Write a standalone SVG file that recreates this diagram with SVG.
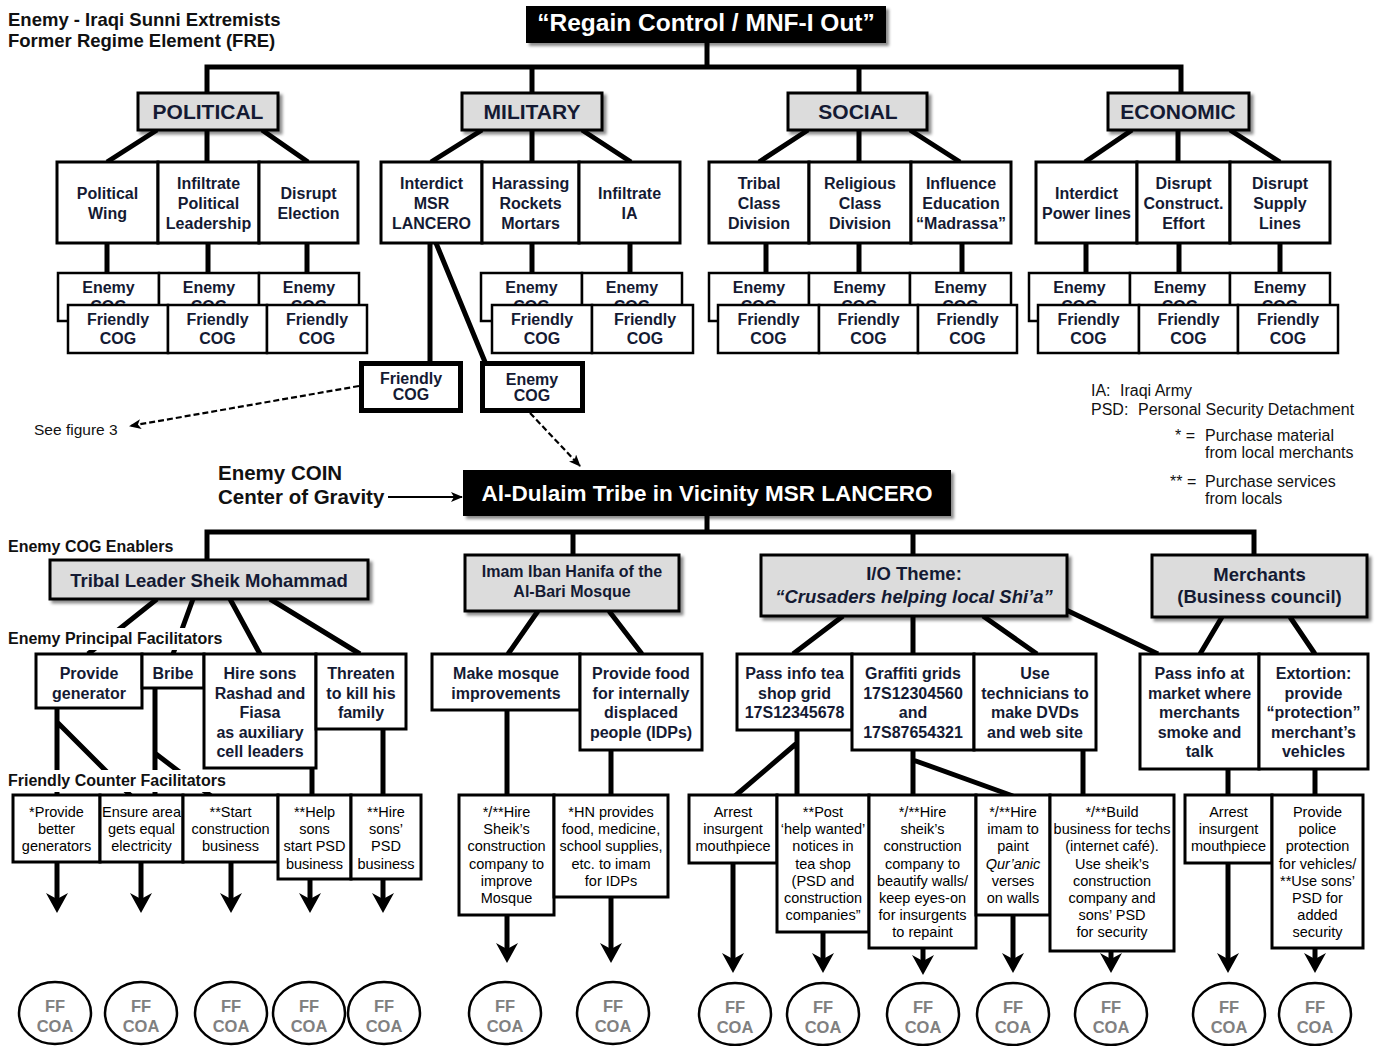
<svg xmlns="http://www.w3.org/2000/svg" width="1377" height="1046" viewBox="0 0 1377 1046">
<style>
.ln{stroke:#000;stroke-width:5;fill:none}
.tl{stroke:#000;stroke-width:2;fill:none}
.ds{stroke:#000;stroke-width:2.2;fill:none;stroke-dasharray:6 3}
.box{fill:#fff;stroke:#000;stroke-width:3}
.cog{fill:#fff;stroke:#000;stroke-width:2.5}
.cat{fill:#dcdcdc;stroke:#000;stroke-width:3;filter:url(#sh)}
.blk{fill:#000;filter:url(#sh)}
.b{font-family:"Liberation Sans",Arial,sans-serif;font-weight:bold;font-size:16px;fill:#141a33;text-anchor:middle}
.c{font-family:"Liberation Sans",Arial,sans-serif;font-weight:bold;font-size:21px;fill:#141a33;text-anchor:middle}
.h{font-family:"Liberation Sans",Arial,sans-serif;font-weight:bold;font-size:18.5px;fill:#141a33;text-anchor:middle}
.r{font-family:"Liberation Sans",Arial,sans-serif;font-size:14.5px;fill:#000;text-anchor:middle}
.lab{font-family:"Liberation Sans",Arial,sans-serif;font-weight:bold;font-size:16px;fill:#111}
.leg{font-family:"Liberation Sans",Arial,sans-serif;font-size:16px;fill:#111}
.w{font-family:"Liberation Sans",Arial,sans-serif;font-weight:bold;fill:#fff;text-anchor:middle}
.coa{fill:#fff;stroke:#000;stroke-width:2.5}
.ct{font-family:"Liberation Sans",Arial,sans-serif;font-weight:bold;font-size:16.5px;fill:#808080;text-anchor:middle}
.hid{clip-path:url(#ecl)}
</style>
<defs>
<filter id="sh" x="-10%" y="-20%" width="130%" height="150%">
<feDropShadow dx="3" dy="3" stdDeviation="1.6" flood-color="#000" flood-opacity="0.45"/>
</filter>
<clipPath id="ecl" clipPathUnits="userSpaceOnUse"><rect x="0" y="270" width="1377" height="35"/></clipPath>
<marker id="ah" markerUnits="userSpaceOnUse" viewBox="0 -11 20 22" refX="10" refY="0" markerWidth="20" markerHeight="22" orient="auto">
<path d="M0,-11 L20,0 L0,11 L6,0 Z" fill="#000"/>
</marker>
<marker id="sa" markerUnits="userSpaceOnUse" viewBox="0 -5 12 10" refX="11" refY="0" markerWidth="12" markerHeight="10" orient="auto">
<path d="M0,-5 L12,0 L0,5 L3,0 Z" fill="#000"/>
</marker>
</defs>
<rect width="1377" height="1046" fill="#fff"/>

<g id="connectors">
<path class="ln" d="M707,43 V67 M207,93 V67 H1181 V93 M532,67 V93 M859,67 V93"/>
<path class="ln" d="M157,130 L107,162 M207,130 V162 M262,130 L308,162"/>
<path class="ln" d="M482,130 L431,162 M532,130 V162 M582,130 L631,162"/>
<path class="ln" d="M808,130 L759,162 M859,130 V162 M910,130 L960,162"/>
<path class="ln" d="M1132,130 L1085,162 M1178,130 V162 M1230,130 L1280,162"/>
<path class="ln" d="M107,243 V273 M208,243 V273 M307,243 V273 M532,243 V273 M630,243 V273 M766,243 V273 M859,243 V273 M962,243 V273 M1086,243 V273 M1179,243 V273 M1280,243 V273"/>
<path class="ln" d="M430,243 V362 M436,243 L485,362"/>
<path class="ds" d="M359,386 L130,426" marker-end="url(#sa)"/>
<path class="ds" d="M530,413 L580,466" marker-end="url(#sa)"/>
<path class="tl" d="M388,497 L462,497" marker-end="url(#sa)"/>
<path class="ln" d="M707,516 V532 M207,560 V532 H1254 V555 M573,532 V555 M913,532 V555"/>
<path class="ln" d="M157,599 L88,654 M193,599 L173,654 M230,599 L260,654 M270,599 L360,654"/>
<path class="ln" d="M538,611 L508,654 M609,611 L642,654"/>
<path class="ln" d="M843,616 L793,654 M913,616 V654 M983,616 L1037,654 M1062,608 L1158,654"/>
<path class="ln" d="M1222,617 L1200,654 M1290,617 L1315,654"/>
<path class="ln" d="M57,708 V796 M57,722 L131,796 M155,688 V796 M156,754 L211,796 M312,768 V796 M383,729 V796"/>
<path class="ln" d="M507,710 V796 M611,750 V796"/>
<path class="ln" d="M797,730 V796 M797,743 L735,796 M913,750 V796 M913,760 L1013,796 M1083,750 V796 M1228,769 V796 M1315,769 V796"/>
<g marker-end="url(#ah)">
<path class="ln" d="M57,862 V903"/>
<path class="ln" d="M141,862 V903"/>
<path class="ln" d="M231,862 V903"/>
<path class="ln" d="M310,879 V903"/>
<path class="ln" d="M383,879 V903"/>
<path class="ln" d="M507,915 V953"/>
<path class="ln" d="M611,897 V953"/>
<path class="ln" d="M733,863 V963"/>
<path class="ln" d="M823,932 V963"/>
<path class="ln" d="M923,948 V965"/>
<path class="ln" d="M1013,915 V963"/>
<path class="ln" d="M1111,951 V963"/>
<path class="ln" d="M1228,863 V963"/>
<path class="ln" d="M1315,948 V963"/>
</g>
</g>

<g id="title">
<text class="lab" x="8" y="26" style="font-size:18.5px">Enemy - Iraqi Sunni Extremists</text>
<text class="lab" x="8" y="47" style="font-size:18.5px">Former Regime Element (FRE)</text>
</g>

<g id="root"><rect class="blk" x="526" y="6" width="360" height="37"/><text class="w" x="706" y="31" style="font-size:24.5px">“Regain Control / MNF-I Out”</text></g>

<g id="political"><rect class="cat" x="138" y="93" width="140" height="37"/><text class="c" x="208" y="119">POLITICAL</text></g>
<g id="military"><rect class="cat" x="462" y="93" width="140" height="37"/><text class="c" x="532" y="119">MILITARY</text></g>
<g id="social"><rect class="cat" x="788" y="93" width="139" height="37"/><text class="c" x="858" y="119">SOCIAL</text></g>
<g id="economic"><rect class="cat" x="1108" y="93" width="141" height="37"/><text class="c" x="1178" y="119">ECONOMIC</text></g>

<g id="political-wing"><rect class="box" x="57" y="162" width="101" height="81"/><text class="b" y="199"><tspan x="107.5">Political</tspan><tspan x="107.5" dy="20">Wing</tspan></text></g>
<g id="infiltrate-political"><rect class="box" x="158" y="162" width="101" height="81"/><text class="b" y="189"><tspan x="208.5">Infiltrate</tspan><tspan x="208.5" dy="20">Political</tspan><tspan x="208.5" dy="20">Leadership</tspan></text></g>
<g id="disrupt-election"><rect class="box" x="259" y="162" width="99" height="81"/><text class="b" y="199"><tspan x="308.5">Disrupt</tspan><tspan x="308.5" dy="20">Election</tspan></text></g>
<g id="interdict-msr"><rect class="box" x="381" y="162" width="101" height="81"/><text class="b" y="189"><tspan x="431.5">Interdict</tspan><tspan x="431.5" dy="20">MSR</tspan><tspan x="431.5" dy="20">LANCERO</tspan></text></g>
<g id="harassing"><rect class="box" x="482" y="162" width="97" height="81"/><text class="b" y="189"><tspan x="530.5">Harassing</tspan><tspan x="530.5" dy="20">Rockets</tspan><tspan x="530.5" dy="20">Mortars</tspan></text></g>
<g id="infiltrate-ia"><rect class="box" x="579" y="162" width="101" height="81"/><text class="b" y="199"><tspan x="629.5">Infiltrate</tspan><tspan x="629.5" dy="20">IA</tspan></text></g>
<g id="tribal-class"><rect class="box" x="709" y="162" width="100" height="81"/><text class="b" y="189"><tspan x="759">Tribal</tspan><tspan x="759" dy="20">Class</tspan><tspan x="759" dy="20">Division</tspan></text></g>
<g id="religious-class"><rect class="box" x="809" y="162" width="102" height="81"/><text class="b" y="189"><tspan x="860">Religious</tspan><tspan x="860" dy="20">Class</tspan><tspan x="860" dy="20">Division</tspan></text></g>
<g id="influence-education"><rect class="box" x="911" y="162" width="100" height="81"/><text class="b" y="189"><tspan x="961">Influence</tspan><tspan x="961" dy="20">Education</tspan><tspan x="961" dy="20">“Madrassa”</tspan></text></g>
<g id="interdict-power"><rect class="box" x="1036" y="162" width="101" height="81"/><text class="b" y="199"><tspan x="1086.5">Interdict</tspan><tspan x="1086.5" dy="20">Power lines</tspan></text></g>
<g id="disrupt-construct"><rect class="box" x="1137" y="162" width="93" height="81"/><text class="b" y="189"><tspan x="1183.5">Disrupt</tspan><tspan x="1183.5" dy="20">Construct.</tspan><tspan x="1183.5" dy="20">Effort</tspan></text></g>
<g id="disrupt-supply"><rect class="box" x="1230" y="162" width="100" height="81"/><text class="b" y="189"><tspan x="1280">Disrupt</tspan><tspan x="1280" dy="20">Supply</tspan><tspan x="1280" dy="20">Lines</tspan></text></g>

<g id="enemy-cogs">
<g id="ecog-p1"><rect class="cog" x="58" y="273" width="101" height="48"/><text class="b hid" y="293"><tspan x="108.5">Enemy</tspan><tspan x="108.5" dy="19">COG</tspan></text></g>
<g id="ecog-p2"><rect class="cog" x="159" y="273" width="100" height="48"/><text class="b hid" y="293"><tspan x="209">Enemy</tspan><tspan x="209" dy="19">COG</tspan></text></g>
<g id="ecog-p3"><rect class="cog" x="259" y="273" width="100" height="48"/><text class="b hid" y="293"><tspan x="309">Enemy</tspan><tspan x="309" dy="19">COG</tspan></text></g>
<g id="ecog-m1"><rect class="cog" x="481" y="273" width="101" height="48"/><text class="b hid" y="293"><tspan x="531.5">Enemy</tspan><tspan x="531.5" dy="19">COG</tspan></text></g>
<g id="ecog-m2"><rect class="cog" x="582" y="273" width="100" height="48"/><text class="b hid" y="293"><tspan x="632">Enemy</tspan><tspan x="632" dy="19">COG</tspan></text></g>
<g id="ecog-s1"><rect class="cog" x="709" y="273" width="100" height="48"/><text class="b hid" y="293"><tspan x="759">Enemy</tspan><tspan x="759" dy="19">COG</tspan></text></g>
<g id="ecog-s2"><rect class="cog" x="809" y="273" width="101" height="48"/><text class="b hid" y="293"><tspan x="859.5">Enemy</tspan><tspan x="859.5" dy="19">COG</tspan></text></g>
<g id="ecog-s3"><rect class="cog" x="910" y="273" width="101" height="48"/><text class="b hid" y="293"><tspan x="960.5">Enemy</tspan><tspan x="960.5" dy="19">COG</tspan></text></g>
<g id="ecog-e1"><rect class="cog" x="1029" y="273" width="101" height="48"/><text class="b hid" y="293"><tspan x="1079.5">Enemy</tspan><tspan x="1079.5" dy="19">COG</tspan></text></g>
<g id="ecog-e2"><rect class="cog" x="1130" y="273" width="100" height="48"/><text class="b hid" y="293"><tspan x="1180">Enemy</tspan><tspan x="1180" dy="19">COG</tspan></text></g>
<g id="ecog-e3"><rect class="cog" x="1230" y="273" width="100" height="48"/><text class="b hid" y="293"><tspan x="1280">Enemy</tspan><tspan x="1280" dy="19">COG</tspan></text></g>
</g>
<g id="friendly-cogs">
<g id="fcog-p1"><rect class="cog" x="68" y="305" width="100" height="48"/><text class="b" y="325"><tspan x="118">Friendly</tspan><tspan x="118" dy="19">COG</tspan></text></g>
<g id="fcog-p2"><rect class="cog" x="168" y="305" width="99" height="48"/><text class="b" y="325"><tspan x="217.5">Friendly</tspan><tspan x="217.5" dy="19">COG</tspan></text></g>
<g id="fcog-p3"><rect class="cog" x="267" y="305" width="100" height="48"/><text class="b" y="325"><tspan x="317">Friendly</tspan><tspan x="317" dy="19">COG</tspan></text></g>
<g id="fcog-m1"><rect class="cog" x="492" y="305" width="100" height="48"/><text class="b" y="325"><tspan x="542">Friendly</tspan><tspan x="542" dy="19">COG</tspan></text></g>
<g id="fcog-m2"><rect class="cog" x="592" y="305" width="101" height="48"/><text class="b" y="325"><tspan x="645">Friendly</tspan><tspan x="645" dy="19">COG</tspan></text></g>
<g id="fcog-s1"><rect class="cog" x="718" y="305" width="101" height="48"/><text class="b" y="325"><tspan x="768.5">Friendly</tspan><tspan x="768.5" dy="19">COG</tspan></text></g>
<g id="fcog-s2"><rect class="cog" x="819" y="305" width="99" height="48"/><text class="b" y="325"><tspan x="868.5">Friendly</tspan><tspan x="868.5" dy="19">COG</tspan></text></g>
<g id="fcog-s3"><rect class="cog" x="918" y="305" width="99" height="48"/><text class="b" y="325"><tspan x="967.5">Friendly</tspan><tspan x="967.5" dy="19">COG</tspan></text></g>
<g id="fcog-e1"><rect class="cog" x="1038" y="305" width="101" height="48"/><text class="b" y="325"><tspan x="1088.5">Friendly</tspan><tspan x="1088.5" dy="19">COG</tspan></text></g>
<g id="fcog-e2"><rect class="cog" x="1139" y="305" width="99" height="48"/><text class="b" y="325"><tspan x="1188.5">Friendly</tspan><tspan x="1188.5" dy="19">COG</tspan></text></g>
<g id="fcog-e3"><rect class="cog" x="1238" y="305" width="100" height="48"/><text class="b" y="325"><tspan x="1288">Friendly</tspan><tspan x="1288" dy="19">COG</tspan></text></g>
</g>

<g id="friendly-cog-msr"><rect x="361.5" y="363.5" width="99" height="47" fill="#fff" stroke="#000" stroke-width="5"/><text class="b" y="384"><tspan x="411">Friendly</tspan><tspan x="411" dy="16">COG</tspan></text></g>
<g id="enemy-cog-msr"><rect x="482.5" y="363.5" width="100" height="47" fill="#fff" stroke="#000" stroke-width="5"/><text class="b" y="385"><tspan x="532">Enemy</tspan><tspan x="532" dy="16">COG</tspan></text></g>
<g id="see-figure"><text class="leg" x="34" y="435" style="font-size:15.5px">See figure 3</text></g>

<g id="coin-label"><text class="lab" x="218" y="480" style="font-size:20.5px">Enemy COIN</text><text class="lab" x="218" y="504" style="font-size:20.5px">Center of Gravity</text></g>
<g id="al-dulaim"><rect class="blk" x="463" y="470" width="488" height="46"/><text class="w" x="707" y="501" style="font-size:22.5px">Al-Dulaim Tribe in Vicinity MSR LANCERO</text></g>

<g id="legend">
<text class="leg" x="1091" y="396">IA:</text><text class="leg" x="1120" y="396">Iraqi Army</text>
<text class="leg" x="1091" y="415">PSD:</text><text class="leg" x="1138" y="415">Personal Security Detachment</text>
<text class="leg" x="1175" y="441">* =</text><text class="leg" x="1205" y="441">Purchase material</text>
<text class="leg" x="1205" y="458">from local merchants</text>
<text class="leg" x="1170" y="487">** =</text><text class="leg" x="1205" y="487">Purchase services</text>
<text class="leg" x="1205" y="504">from locals</text>
</g>

<g id="row-labels">
<text class="lab" x="8" y="552">Enemy COG Enablers</text>
<rect x="4" y="628" width="226" height="22" fill="#fff"/>
<text class="lab" x="8" y="644">Enemy Principal Facilitators</text>
<rect x="4" y="770" width="228" height="22" fill="#fff"/>
<text class="lab" x="8" y="786">Friendly Counter Facilitators</text>
</g>

<g id="tribal-leader"><rect class="cat" x="50" y="560" width="318" height="39"/><text class="h" x="209" y="587">Tribal Leader Sheik Mohammad</text></g>
<g id="imam"><rect class="cat" x="465" y="555" width="214" height="56"/><text class="b" y="577"><tspan x="572">Imam Iban Hanifa of the</tspan><tspan x="572" dy="20">Al-Bari Mosque</tspan></text></g>
<g id="io-theme"><rect class="cat" x="761" y="555" width="306" height="61"/><text class="h" x="914" y="580">I/O Theme:</text><text class="h" x="914" y="603" font-style="italic">“Crusaders helping local Shi’a”</text></g>
<g id="merchants"><rect class="cat" x="1152" y="555" width="215" height="62"/><text class="h" y="581"><tspan x="1259.5">Merchants</tspan><tspan x="1259.5" dy="22">(Business council)</tspan></text></g>

<g id="provide-generator"><rect class="box" x="36" y="654" width="106" height="54"/><text class="b" y="679"><tspan x="89">Provide</tspan><tspan x="89" dy="19.5">generator</tspan></text></g>
<g id="bribe"><rect class="box" x="142" y="654" width="62" height="34"/><text class="b" x="173" y="679">Bribe</text></g>
<g id="hire-sons"><rect class="box" x="204" y="654" width="112" height="114"/><text class="b" y="679"><tspan x="260">Hire sons</tspan><tspan x="260" dy="19.5">Rashad and</tspan><tspan x="260" dy="19.5">Fiasa</tspan><tspan x="260" dy="19.5">as auxiliary</tspan><tspan x="260" dy="19.5">cell leaders</tspan></text></g>
<g id="threaten"><rect class="box" x="316" y="654" width="90" height="75"/><text class="b" y="679"><tspan x="361">Threaten</tspan><tspan x="361" dy="19.5">to kill his</tspan><tspan x="361" dy="19.5">family</tspan></text></g>
<g id="make-mosque"><rect class="box" x="432" y="654" width="148" height="56"/><text class="b" y="679"><tspan x="506">Make mosque</tspan><tspan x="506" dy="19.5">improvements</tspan></text></g>
<g id="provide-food"><rect class="box" x="580" y="654" width="122" height="96"/><text class="b" y="679"><tspan x="641">Provide food</tspan><tspan x="641" dy="19.5">for internally</tspan><tspan x="641" dy="19.5">displaced</tspan><tspan x="641" dy="19.5">people (IDPs)</tspan></text></g>
<g id="pass-info-tea"><rect class="box" x="737" y="654" width="115" height="76"/><text class="b" y="679"><tspan x="794.5">Pass info tea</tspan><tspan x="794.5" dy="19.5">shop grid</tspan><tspan x="794.5" dy="19.5">17S12345678</tspan></text></g>
<g id="graffiti"><rect class="box" x="852" y="654" width="122" height="96"/><text class="b" y="679"><tspan x="913">Graffiti grids</tspan><tspan x="913" dy="19.5">17S12304560</tspan><tspan x="913" dy="19.5">and</tspan><tspan x="913" dy="19.5">17S87654321</tspan></text></g>
<g id="use-technicians"><rect class="box" x="974" y="654" width="122" height="96"/><text class="b" y="679"><tspan x="1035">Use</tspan><tspan x="1035" dy="19.5">technicians to</tspan><tspan x="1035" dy="19.5">make DVDs</tspan><tspan x="1035" dy="19.5">and web site</tspan></text></g>
<g id="pass-info-market"><rect class="box" x="1140" y="654" width="119" height="115"/><text class="b" y="679"><tspan x="1199.5">Pass info at</tspan><tspan x="1199.5" dy="19.5">market where</tspan><tspan x="1199.5" dy="19.5">merchants</tspan><tspan x="1199.5" dy="19.5">smoke and</tspan><tspan x="1199.5" dy="19.5">talk</tspan></text></g>
<g id="extortion"><rect class="box" x="1259" y="654" width="109" height="115"/><text class="b" y="679"><tspan x="1313.5">Extortion:</tspan><tspan x="1313.5" dy="19.5">provide</tspan><tspan x="1313.5" dy="19.5">“protection”</tspan><tspan x="1313.5" dy="19.5">merchant’s</tspan><tspan x="1313.5" dy="19.5">vehicles</tspan></text></g>

<g id="cf-generators"><rect class="box" x="13" y="795" width="87" height="67"/><text class="r" y="817"><tspan x="56.5">*Provide</tspan><tspan x="56.5" dy="17.2">better</tspan><tspan x="56.5" dy="17.2">generators</tspan></text></g>
<g id="cf-electricity"><rect class="box" x="100" y="795" width="83" height="67"/><text class="r" y="817"><tspan x="141.5">Ensure area</tspan><tspan x="141.5" dy="17.2">gets equal</tspan><tspan x="141.5" dy="17.2">electricity</tspan></text></g>
<g id="cf-construction"><rect class="box" x="183" y="795" width="95" height="67"/><text class="r" y="817"><tspan x="230.5">**Start</tspan><tspan x="230.5" dy="17.2">construction</tspan><tspan x="230.5" dy="17.2">business</tspan></text></g>
<g id="cf-help-sons"><rect class="box" x="278" y="795" width="73" height="84"/><text class="r" y="817"><tspan x="314.5">**Help</tspan><tspan x="314.5" dy="17.2">sons</tspan><tspan x="314.5" dy="17.2">start PSD</tspan><tspan x="314.5" dy="17.2">business</tspan></text></g>
<g id="cf-hire-sons"><rect class="box" x="351" y="795" width="70" height="84"/><text class="r" y="817"><tspan x="386">**Hire</tspan><tspan x="386" dy="17.2">sons’</tspan><tspan x="386" dy="17.2">PSD</tspan><tspan x="386" dy="17.2">business</tspan></text></g>
<g id="cf-mosque"><rect class="box" x="459" y="795" width="95" height="120"/><text class="r" y="817"><tspan x="506.5">*/**Hire</tspan><tspan x="506.5" dy="17.2">Sheik’s</tspan><tspan x="506.5" dy="17.2">construction</tspan><tspan x="506.5" dy="17.2">company to</tspan><tspan x="506.5" dy="17.2">improve</tspan><tspan x="506.5" dy="17.2">Mosque</tspan></text></g>
<g id="cf-hn"><rect class="box" x="554" y="795" width="114" height="102"/><text class="r" y="817"><tspan x="611">*HN provides</tspan><tspan x="611" dy="17.2">food, medicine,</tspan><tspan x="611" dy="17.2">school supplies,</tspan><tspan x="611" dy="17.2">etc. to imam</tspan><tspan x="611" dy="17.2">for IDPs</tspan></text></g>
<g id="cf-arrest-1"><rect class="box" x="689" y="795" width="88" height="68"/><text class="r" y="817"><tspan x="733">Arrest</tspan><tspan x="733" dy="17.2">insurgent</tspan><tspan x="733" dy="17.2">mouthpiece</tspan></text></g>
<g id="cf-post"><rect class="box" x="777" y="795" width="92" height="137"/><text class="r" y="817"><tspan x="823">**Post</tspan><tspan x="823" dy="17.2">‘help wanted’</tspan><tspan x="823" dy="17.2">notices in</tspan><tspan x="823" dy="17.2">tea shop</tspan><tspan x="823" dy="17.2">(PSD and</tspan><tspan x="823" dy="17.2">construction</tspan><tspan x="823" dy="17.2">companies”</tspan></text></g>
<g id="cf-beautify"><rect class="box" x="869" y="795" width="107" height="153"/><text class="r" y="817"><tspan x="922.5">*/**Hire</tspan><tspan x="922.5" dy="17.2">sheik’s</tspan><tspan x="922.5" dy="17.2">construction</tspan><tspan x="922.5" dy="17.2">company to</tspan><tspan x="922.5" dy="17.2">beautify walls/</tspan><tspan x="922.5" dy="17.2">keep eyes-on</tspan><tspan x="922.5" dy="17.2">for insurgents</tspan><tspan x="922.5" dy="17.2">to repaint</tspan></text></g>
<g id="cf-imam"><rect class="box" x="976" y="795" width="74" height="120"/><text class="r" y="817"><tspan x="1013">*/**Hire</tspan><tspan x="1013" dy="17.2">imam to</tspan><tspan x="1013" dy="17.2">paint</tspan><tspan x="1013" dy="17.2" font-style="italic">Qur’anic</tspan><tspan x="1013" dy="17.2">verses</tspan><tspan x="1013" dy="17.2">on walls</tspan></text></g>
<g id="cf-build"><rect class="box" x="1050" y="795" width="124" height="156"/><text class="r" y="817"><tspan x="1112">*/**Build</tspan><tspan x="1112" dy="17.2">business for techs</tspan><tspan x="1112" dy="17.2">(internet café).</tspan><tspan x="1112" dy="17.2">Use sheik’s</tspan><tspan x="1112" dy="17.2">construction</tspan><tspan x="1112" dy="17.2">company and</tspan><tspan x="1112" dy="17.2">sons’ PSD</tspan><tspan x="1112" dy="17.2">for security</tspan></text></g>
<g id="cf-arrest-2"><rect class="box" x="1185" y="795" width="87" height="68"/><text class="r" y="817"><tspan x="1228.5">Arrest</tspan><tspan x="1228.5" dy="17.2">insurgent</tspan><tspan x="1228.5" dy="17.2">mouthpiece</tspan></text></g>
<g id="cf-police"><rect class="box" x="1272" y="795" width="91" height="153"/><text class="r" y="817"><tspan x="1317.5">Provide</tspan><tspan x="1317.5" dy="17.2">police</tspan><tspan x="1317.5" dy="17.2">protection</tspan><tspan x="1317.5" dy="17.2">for vehicles/</tspan><tspan x="1317.5" dy="17.2">**Use sons’</tspan><tspan x="1317.5" dy="17.2">PSD for</tspan><tspan x="1317.5" dy="17.2">added</tspan><tspan x="1317.5" dy="17.2">security</tspan></text></g>

<g id="coa-1"><ellipse class="coa" cx="55" cy="1013" rx="36" ry="31"/><text class="ct" y="1012"><tspan x="55">FF</tspan><tspan x="55" dy="19.5">COA</tspan></text></g>
<g id="coa-2"><ellipse class="coa" cx="141" cy="1013" rx="36" ry="31"/><text class="ct" y="1012"><tspan x="141">FF</tspan><tspan x="141" dy="19.5">COA</tspan></text></g>
<g id="coa-3"><ellipse class="coa" cx="231" cy="1013" rx="36" ry="31"/><text class="ct" y="1012"><tspan x="231">FF</tspan><tspan x="231" dy="19.5">COA</tspan></text></g>
<g id="coa-4"><ellipse class="coa" cx="309" cy="1013" rx="36" ry="31"/><text class="ct" y="1012"><tspan x="309">FF</tspan><tspan x="309" dy="19.5">COA</tspan></text></g>
<g id="coa-5"><ellipse class="coa" cx="384" cy="1013" rx="36" ry="31"/><text class="ct" y="1012"><tspan x="384">FF</tspan><tspan x="384" dy="19.5">COA</tspan></text></g>
<g id="coa-6"><ellipse class="coa" cx="505" cy="1013" rx="36" ry="31"/><text class="ct" y="1012"><tspan x="505">FF</tspan><tspan x="505" dy="19.5">COA</tspan></text></g>
<g id="coa-7"><ellipse class="coa" cx="613" cy="1013" rx="36" ry="31"/><text class="ct" y="1012"><tspan x="613">FF</tspan><tspan x="613" dy="19.5">COA</tspan></text></g>
<g id="coa-8"><ellipse class="coa" cx="735" cy="1014" rx="36" ry="31"/><text class="ct" y="1013"><tspan x="735">FF</tspan><tspan x="735" dy="19.5">COA</tspan></text></g>
<g id="coa-9"><ellipse class="coa" cx="823" cy="1014" rx="36" ry="31"/><text class="ct" y="1013"><tspan x="823">FF</tspan><tspan x="823" dy="19.5">COA</tspan></text></g>
<g id="coa-10"><ellipse class="coa" cx="923" cy="1014" rx="36" ry="31"/><text class="ct" y="1013"><tspan x="923">FF</tspan><tspan x="923" dy="19.5">COA</tspan></text></g>
<g id="coa-11"><ellipse class="coa" cx="1013" cy="1014" rx="36" ry="31"/><text class="ct" y="1013"><tspan x="1013">FF</tspan><tspan x="1013" dy="19.5">COA</tspan></text></g>
<g id="coa-12"><ellipse class="coa" cx="1111" cy="1014" rx="36" ry="31"/><text class="ct" y="1013"><tspan x="1111">FF</tspan><tspan x="1111" dy="19.5">COA</tspan></text></g>
<g id="coa-13"><ellipse class="coa" cx="1229" cy="1014" rx="36" ry="31"/><text class="ct" y="1013"><tspan x="1229">FF</tspan><tspan x="1229" dy="19.5">COA</tspan></text></g>
<g id="coa-14"><ellipse class="coa" cx="1315" cy="1014" rx="36" ry="31"/><text class="ct" y="1013"><tspan x="1315">FF</tspan><tspan x="1315" dy="19.5">COA</tspan></text></g>
</svg>
